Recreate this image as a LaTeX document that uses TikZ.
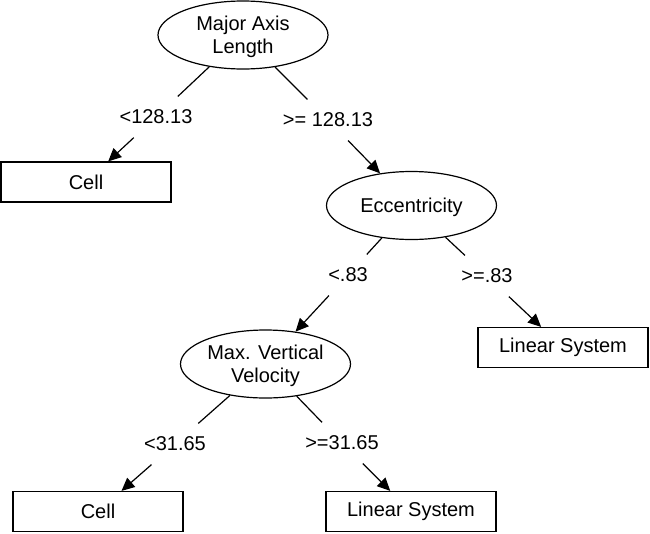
\documentclass[tikz,border=0pt]{standalone}
\usepackage{fontspec}
\setmainfont{Liberation Sans}
\usetikzlibrary{shapes.geometric,arrows.meta}
\begin{document}
\begin{tikzpicture}[x=1pt, y=-1pt, line width=1.2pt,
    font=\fontsize{20}{23}\selectfont,
    test/.style={ellipse, draw, minimum width=170pt, minimum height=68pt,
                 inner sep=0pt, align=center, text depth=0pt},
    leaf/.style={rectangle, draw, minimum width=170pt, minimum height=40pt,
                 inner sep=0pt},
    split/.style={inner sep=0pt, minimum height=40pt},
    >={Triangle[length=13pt,width=12pt]}]
  \useasboundingbox (0,0) rectangle (650,533);
  \path node (T1)  at (243,35)    [test]  {Major Axis\\Length}
        node (T1a) at (156,117)   [split] {<128.13}
        node (T1b) at (328,120)   [split] {>= 128.13}
        node (C1)  at (86,182)    [leaf]  {Cell}
        %
        node (T2)  at (411.5,205.5) [test] {Eccentricity}
        node (T2a) at (348,275)   [split] {<.83}
        node (T2b) at (487,276)   [split] {>=.83}
        node (L1)  at (563,347.5) [leaf]  {Linear System}
        %
        node (T3)  at (265.5,364) [test]  {Max. Vertical\\Velocity}
        node (T3a) at (175,444)   [split] {<31.65}
        node (T3b) at (342,443)   [split] {>=31.65}
        node (C2)  at (98,511.5)  [leaf]  {Cell}
        node (L2)  at (411,511.5) [leaf]  {Linear System};
  \draw (T1) -- (T1a)
        (T1) -- (T1b)
        (T2) -- (T2a)
        (T2) -- (T2b)
        (T3) -- (T3a)
        (T3) -- (T3b);
  \draw [->] (T1a) -- (C1);
  \draw [->] (T1b) -- (T2);
  \draw [->] (T2a) -- (T3);
  \draw [->] (T2b) -- (L1);
  \draw [->] (T3a) -- (C2);
  \draw [->] (T3b) -- (L2);
\end{tikzpicture}
\end{document}
